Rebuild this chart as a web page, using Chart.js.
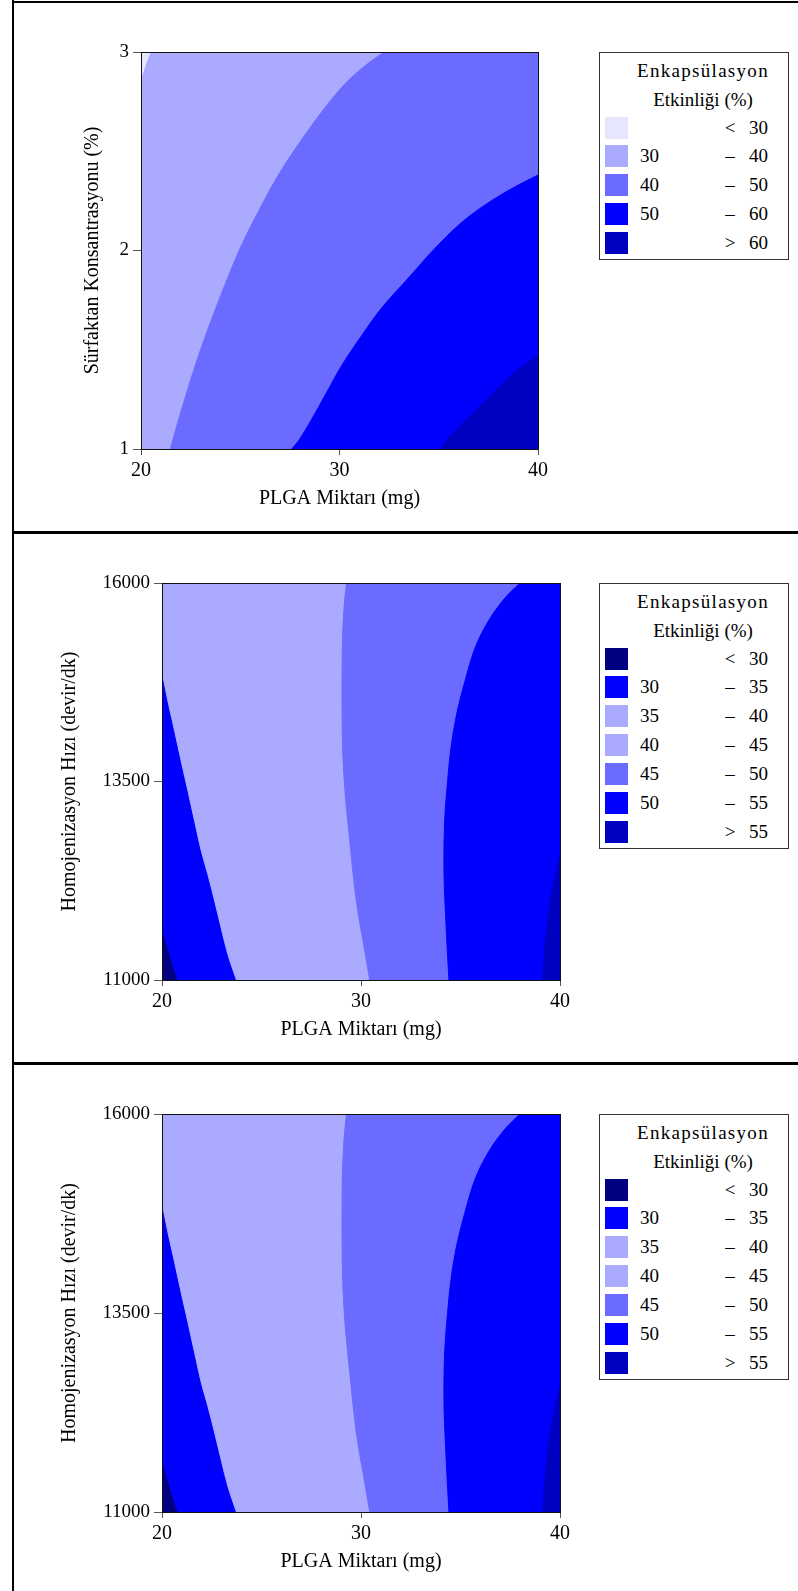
<!DOCTYPE html>
<html lang="tr">
<head>
<meta charset="utf-8">
<title>Enkapsülasyon Etkinliği - kontur grafikleri</title>
<script src="https://cdn.jsdelivr.net/npm/chart.js@4.4.1/dist/chart.umd.min.js"></script>
<style>
  html, body { margin: 0; padding: 0; background: #fff; }
  body {
    width: 798px; height: 1591px; position: relative; overflow: hidden;
    font-family: "Liberation Serif", "Times New Roman", serif; color: #000;
  }
  .rule { position: absolute; background: #000; }
  canvas { position: absolute; left: 0; }
  .legend {
    position: absolute; left: 599px; width: 190px; box-sizing: border-box;
    border: 1px solid #333; background: #fff; font-size: 19px;
  }
  .legend .ttl { position: absolute; left: 18px; right: 0; top: 3px; text-align: center; line-height: 29px; }
  .legend .ttl .first { letter-spacing: 1.3px; }
  .legend .sw { position: absolute; left: 5px; width: 23px; height: 22px; }
  .legend .lo, .legend .op, .legend .hi { position: absolute; line-height: 22px; white-space: nowrap; }
  .legend .lo { left: 40px; }
  .legend .op { left: 119px; width: 22px; text-align: center; }
  .legend .hi { left: 149px; }
</style>
</head>
<body>
<div class="rule" style="left:12px; top:0; width:2px; height:1591px"></div>
<div class="rule" style="left:12px; top:1px; width:786px; height:2px"></div>
<div class="rule" style="left:12px; top:531px; width:786px; height:3px"></div>
<div class="rule" style="left:12px; top:1062px; width:786px; height:3px"></div>

<canvas id="chart1" width="590" height="531" style="top:0"></canvas>
<canvas id="chart2" width="590" height="528" style="top:534px"></canvas>
<canvas id="chart3" width="590" height="526" style="top:1065px"></canvas>

<div class="legend" id="legend1" style="top:52px"></div>
<div class="legend" id="legend2" style="top:583px"></div>
<div class="legend" id="legend3" style="top:1114px"></div>

<script>
// Panel 1: PLGA miktarı - sürfaktan konsantrasyonu
const p1XTicks = [20, 30, 40];
const p1YTicks = [1, 2, 3];
const p1Levels = [30, 40, 50, 60];
const p1Colors = ["#e6e6ff", "#aaaaff", "#6b6bff", "#0000ff", "#0000c0"];

// kontur sınırları (alttan üste doğru)
const p1C30X = [20, 20.25, 20.52];
const p1C30Y = [2.85, 2.93, 3];
const p1C40X = [21.48, 21.81, 22.23, 22.73, 23.32, 24.24, 25.08, 26.09, 26.92, 27.76, 28.6, 29.35, 30.28, 31.28, 32.25];
const p1C40Y = [1, 1.12, 1.26, 1.42, 1.59, 1.83, 2.03, 2.23, 2.38, 2.51, 2.63, 2.73, 2.84, 2.93, 3];
const p1C50X = [27.59, 27.93, 28.6, 29.27, 30.11, 31.11, 32.12, 33.46, 34.8, 36.14, 37.49, 38.83, 40];
const p1C50Y = [1, 1.04, 1.15, 1.27, 1.42, 1.57, 1.71, 1.86, 2.01, 2.14, 2.24, 2.32, 2.38];
const p1C60X = [35.05, 35.81, 36.81, 37.82, 38.99, 40];
const p1C60Y = [1, 1.09, 1.19, 1.29, 1.4, 1.47];

// Panel 2 ve 3: PLGA miktarı - homojenizasyon hızı (iki panel aynı)
const p2XTicks = [20, 30, 40];
const p2YTicks = [11000, 13500, 16000];
const p2Levels = [30, 35, 40, 45, 50, 55];
const p2Colors = ["#000080", "#0000ff", "#aaaaff", "#aaaaff", "#6b6bff", "#0000ff", "#0000c0"];

const p2C30X = [20.8, 20.55, 20.3, 20];
const p2C30Y = [11000, 11190, 11400, 11650];
const p2C35X = [23.74, 23.32, 22.98, 22.65, 22.31, 21.98, 21.64, 21.31, 20.97, 20.64, 20.3, 20];
const p2C35Y = [11000, 11315, 11650, 11990, 12325, 12620, 13000, 13375, 13750, 14130, 14510, 14890];
const p2C45X = [30.44, 30.11, 29.82, 29.61, 29.44, 29.27, 29.14, 29.07, 29.05, 29.05, 29.07, 29.15, 29.27];
const p2C45Y = [11000, 11480, 11900, 12320, 12740, 13160, 13580, 14000, 14420, 14850, 15270, 15690, 16000];
const p2C50X = [34.42, 34.33, 34.25, 34.18, 34.17, 34.22, 34.35, 34.52, 34.8, 35.22, 35.73, 36.4, 37.23, 37.99];
const p2C50Y = [11000, 11400, 11820, 12240, 12660, 13080, 13500, 13920, 14340, 14760, 15180, 15520, 15810, 16000];
const p2C55X = [39.13, 39.21, 39.33, 39.5, 39.75, 40];
const p2C55Y = [11000, 11315, 11650, 11990, 12320, 12580];

const p1Curves = { 30: [p1C30X, p1C30Y], 40: [p1C40X, p1C40Y], 50: [p1C50X, p1C50Y], 60: [p1C60X, p1C60Y] };
// 40 sınırı görünmüyor (35-40 ve 40-45 aynı renk)
const p2Curves = { 30: [p2C30X, p2C30Y], 35: [p2C35X, p2C35Y], 45: [p2C45X, p2C45Y], 50: [p2C50X, p2C50Y], 55: [p2C55X, p2C55Y] };

Chart.defaults.font.family = '"Liberation Serif", "Times New Roman", serif';
Chart.defaults.color = "#000";

function toPoints(xs, ys) {
  return xs.map((x, i) => ({ x: x, y: ys[i] }));
}

// çerçeve üzerinde saat yönünde konum (0 = sol üst köşe)
function perimT(p, b) {
  const w = b.x1 - b.x0, h = b.y1 - b.y0;
  if (p.y >= b.y1) return (p.x - b.x0) / w;
  if (p.x >= b.x1) return 1 + (b.y1 - p.y) / h;
  if (p.y <= b.y0) return 2 + (b.x1 - p.x) / w;
  return 3 + (p.y - b.y0) / h;
}

// kenardaki uç noktayı alanın dışına doğru uzat (eğri kenarda kıvrılmasın)
function extend(p, q) {
  return { x: p.x + (p.x - q.x) * 1.5, y: p.y + (p.y - q.y) * 1.5 };
}

// eğrinin sağında kalan (yüksek değerli) bölge; kapatma köşeleri alanın dışında
function closeRight(pts, b) {
  const dx = (b.x1 - b.x0) * 0.3, dy = (b.y1 - b.y0) * 0.3;
  const corners = [
    { x: b.x1 + dx, y: b.y1 + dy }, { x: b.x1 + dx, y: b.y0 - dy },
    { x: b.x0 - dx, y: b.y0 - dy }, { x: b.x0 - dx, y: b.y1 + dy }
  ];
  const n = pts.length;
  const tEnd = perimT(pts[n - 1], b);
  let tStart = perimT(pts[0], b);
  if (tStart <= tEnd) tStart += 4;
  const out = [extend(pts[0], pts[1])].concat(pts, [extend(pts[n - 1], pts[n - 2])]);
  for (let k = 1; k <= 8; k++) {
    if (k > tEnd && k < tStart) out.push(corners[(k - 1) % 4]);
  }
  return out;
}

function buildDatasets(levels, colors, curves, b) {
  const sets = [{
    data: [{ x: b.x0, y: b.y0 }, { x: b.x0, y: b.y1 }, { x: b.x1, y: b.y1 }, { x: b.x1, y: b.y0 }],
    color: colors[0], tension: 0
  }];
  levels.forEach((lv, i) => {
    const c = curves[lv];
    if (!c) return;
    sets.push({ data: closeRight(toPoints(c[0], c[1]), b), color: colors[i + 1], tension: 0.35 });
  });
  return sets.map((s, i, all) => ({
    data: s.data,
    fill: "shape",
    backgroundColor: s.color,
    borderColor: s.color,
    borderWidth: 1,
    pointRadius: 0,
    tension: s.tension,
    clip: 0,
    order: all.length - i
  }));
}

const plotFrame = {
  id: "plotFrame",
  afterDraw(chart) {
    const { ctx, chartArea: a } = chart;
    ctx.save();
    ctx.strokeStyle = "#111";
    ctx.lineWidth = 1;
    ctx.strokeRect(Math.round(a.left) + 0.5, Math.round(a.top) + 0.5,
      Math.round(a.right - a.left), Math.round(a.bottom - a.top));
    ctx.restore();
  }
};

function makeChart(id, o) {
  const b = {
    x0: o.xTicks[0], x1: o.xTicks[o.xTicks.length - 1],
    y0: o.yTicks[0], y1: o.yTicks[o.yTicks.length - 1]
  };
  return new Chart(document.getElementById(id), {
    type: "line",
    data: { datasets: buildDatasets(o.levels, o.colors, o.curves, b) },
    options: {
      responsive: false,
      animation: false,
      events: [],
      layout: { padding: o.pad },
      elements: { line: { capBezierPoints: false } },
      plugins: { legend: { display: false }, tooltip: { enabled: false } },
      scales: {
        x: {
          type: "linear", min: b.x0, max: b.x1,
          afterBuildTicks: (s) => { s.ticks = o.xTicks.map((v) => ({ value: v })); },
          afterFit: (s) => { s.height = 70; },
          ticks: { font: { size: 20 }, padding: 4, maxRotation: 0, autoSkip: false, callback: (v) => String(v) },
          grid: { drawOnChartArea: false, tickLength: 6, color: "#555" },
          border: { display: false },
          title: { display: true, text: "PLGA Miktarı (mg)", font: { size: 20 }, padding: { top: 0, bottom: 8 } }
        },
        y: {
          type: "linear", min: b.y0, max: b.y1,
          afterBuildTicks: (s) => { s.ticks = o.yTicks.map((v) => ({ value: v })); },
          afterFit: (s) => { s.width = o.yWidth; },
          ticks: { font: { size: 19 }, padding: 4, autoSkip: false, callback: (v) => String(v) },
          grid: { drawOnChartArea: false, tickLength: 8, color: "#555" },
          border: { display: false },
          title: { display: true, text: o.yTitle, font: { size: 20 }, padding: { top: o.yTitlePad, bottom: 0 } }
        }
      }
    },
    plugins: [plotFrame]
  });
}

function buildLegend(id, levels, colors) {
  const el = document.getElementById(id);
  const rows = [["", "<", levels[0]]];
  for (let i = 0; i < levels.length - 1; i++) rows.push([levels[i], "–", levels[i + 1]]);
  rows.push(["", ">", levels[levels.length - 1]]);

  let html = '<div class="ttl"><div class="first">Enkapsülasyon</div><div>Etkinliği (%)</div></div>';
  rows.forEach((r, i) => {
    const top = 63.6 + i * 28.85;
    html += '<div class="sw" style="top:' + top + 'px;background:' + colors[i] + '"></div>';
    html += '<div class="lo" style="top:' + top + 'px">' + r[0] + "</div>";
    html += '<div class="op" style="top:' + top + 'px">' + r[1] + "</div>";
    html += '<div class="hi" style="top:' + top + 'px">' + r[2] + "</div>";
  });
  el.innerHTML = html;
  el.style.height = (64.6 + (rows.length - 1) * 28.85 + 22 + 6.4) + "px";
}

makeChart("chart1", {
  xTicks: p1XTicks, yTicks: p1YTicks, levels: p1Levels, colors: p1Colors, curves: p1Curves,
  yTitle: "Sürfaktan Konsantrasyonu (%)", yWidth: 141, yTitlePad: 81,
  pad: { left: 0, top: 52, right: 52, bottom: 12 }
});
makeChart("chart2", {
  xTicks: p2XTicks, yTicks: p2YTicks, levels: p2Levels, colors: p2Colors, curves: p2Curves,
  yTitle: "Homojenizasyon Hızı (devir/dk)", yWidth: 162, yTitlePad: 58,
  pad: { left: 0, top: 49, right: 30, bottom: 12 }
});
makeChart("chart3", {
  xTicks: p2XTicks, yTicks: p2YTicks, levels: p2Levels, colors: p2Colors, curves: p2Curves,
  yTitle: "Homojenizasyon Hızı (devir/dk)", yWidth: 162, yTitlePad: 58,
  pad: { left: 0, top: 49, right: 30, bottom: 9 }
});

buildLegend("legend1", p1Levels, p1Colors);
buildLegend("legend2", p2Levels, p2Colors);
buildLegend("legend3", p2Levels, p2Colors);
</script>
</body>
</html>
